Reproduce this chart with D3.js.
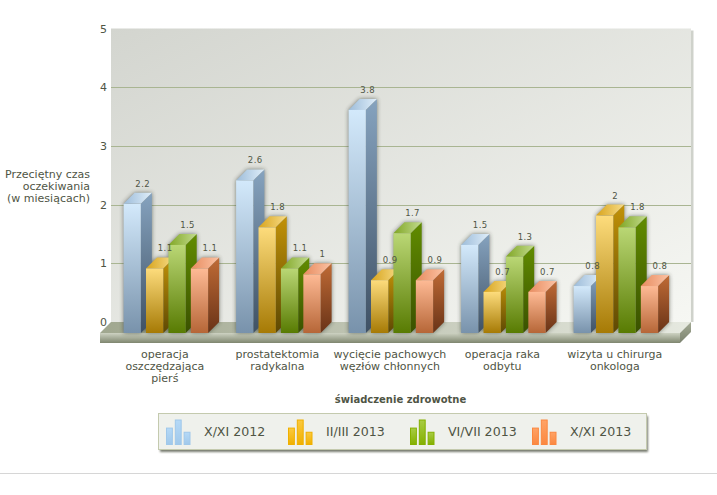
<!DOCTYPE html>
<html>
<head>
<meta charset="utf-8">
<script src="https://cdn.jsdelivr.net/npm/d3@7"></script>
<style>
html, body { margin: 0; padding: 0; background: #fff; }
svg { display: block; }
text { font-family: "DejaVu Sans", sans-serif; fill: #4f5545; }
</style>
</head>
<body>
<svg id="chart" width="717" height="495"></svg>
<script>
var categories = [
    ["operacja", "oszczędzająca", "pierś"],
    ["prostatektomia", "radykalna"],
    ["wycięcie pachowych", "węzłów chłonnych"],
    ["operacja raka", "odbytu"],
    ["wizyta u chirurga", "onkologa"]
];
var seriesNames = ["X/XI 2012", "II/III 2013", "VI/VII 2013", "X/XI 2013"];
var values2012a = [2.2, 2.6, 3.8, 1.5, 0.8];
var values2013a = [1.1, 1.8, 0.9, 0.7, 2];
var values2013b = [1.5, 1.1, 1.7, 1.3, 1.8];
var values2013c = [1.1, 1, 0.9, 0.7, 0.8];
var seriesValues = [values2012a, values2013a, values2013b, values2013c];
var yTicks = [0, 1, 2, 3, 4, 5];
var yTitle = ["Przeciętny czas", "oczekiwania", "(w miesiącach)"];
var xTitle = "świadczenie zdrowotne";
var legendShape = [0.67, 1, 0.5];

// colours per series: front top/bottom, side top/bottom, cap left/right
var palette = [
    { front: ["#d3e9fb", "#7892ab"], side: ["#86a3bf", "#3f5164"], cap: ["#9dbcd9", "#dfeefa"], key: ["#b5d9f7", "#a0c8ea"] },
    { front: ["#fddc7c", "#a67a05"], side: ["#c29208", "#5d4803"], cap: ["#d8a41c", "#f7dc88"], key: ["#fbc93f", "#f0b000"] },
    { front: ["#bad775", "#587b02"], side: ["#618c00", "#3a5100"], cap: ["#80a624", "#c2db8e"], key: ["#a8cc45", "#84b000"] },
    { front: ["#feba95", "#b66637"], side: ["#c06b36", "#693317"], cap: ["#e78c60", "#fcc2a3"], key: ["#ffa366", "#fb8840"] }
];

var wall = { left: 111, right: 691, top: 28.5, bottom: 322 };
var depth = 11;

var svg = d3.select("#chart");
var defs = svg.append("defs");

function addGradient(id, c, x2, y2) {
    var g = defs.append("linearGradient").attr("id", id)
        .attr("x1", 0).attr("y1", 0).attr("x2", x2).attr("y2", y2);
    g.append("stop").attr("offset", "0%").attr("stop-color", c[0]);
    g.append("stop").attr("offset", "100%").attr("stop-color", c[1]);
}

palette.forEach(function (p, i) {
    addGradient("front" + i, p.front, 0, 1);
    addGradient("side" + i, p.side, 0, 1);
    addGradient("cap" + i, p.cap, 1, 0);
    addGradient("key" + i, p.key, 0, 1);
});
addGradient("wallFill", ["#d3d5cf", "#f6f7f3"], 1, 1);
addGradient("floorTop", ["#a0a78f", "#e6e9e0"], 1, 0);
addGradient("floorFront", ["#cdd2c2", "#7f866f"], 0, 1);
addGradient("floorSide", ["#a3aa94", "#7c8370"], 0, 1);

defs.append("filter").attr("id", "blur")
    .attr("x", "-40%").attr("y", "-40%").attr("width", "180%").attr("height", "180%")
    .append("feGaussianBlur").attr("stdDeviation", 2.2);
defs.append("filter").attr("id", "legendShadow")
    .attr("x", "-5%").attr("y", "-20%").attr("width", "110%").attr("height", "140%")
    .append("feGaussianBlur").attr("stdDeviation", 1);

var y = d3.scaleLinear().domain([0, 5]).range([wall.bottom, wall.top]);
var x0 = d3.scaleBand().domain(d3.range(categories.length)).range([109.6, 672.1]);
var x1 = d3.scaleBand().domain(d3.range(seriesNames.length)).range([14, 98.5]).paddingInner(0.23);

// back wall
svg.append("rect").attr("x", wall.right).attr("y", wall.top + 2)
    .attr("width", 2.5).attr("height", wall.bottom - wall.top - 2).attr("fill", "#cfd2cb");
svg.append("rect").attr("x", wall.left).attr("y", wall.top)
    .attr("width", wall.right - wall.left).attr("height", wall.bottom - wall.top)
    .attr("fill", "url(#wallFill)");

// grid lines
svg.append("g").selectAll("line")
    .data(yTicks.filter(function (d) { return d > 0 && d < 5; }))
    .enter().append("line")
    .attr("x1", wall.left).attr("x2", wall.right)
    .attr("y1", function (d) { return Math.round(y(d)) + 0.5; })
    .attr("y2", function (d) { return Math.round(y(d)) + 0.5; })
    .attr("stroke", "#a9b592");

// y axis, only the numbers stay visible
var axis = svg.append("g")
    .attr("transform", "translate(" + wall.left + ",0)")
    .call(d3.axisLeft(y).tickValues(yTicks).tickFormat(d3.format("d")).tickSize(0).tickPadding(4));
axis.select(".domain").remove();
axis.selectAll("text").attr("font-size", 11).style("font-family", "DejaVu Sans").attr("fill", "#4f5545");

// floor
var fl = wall.left, fr = wall.right, fb = wall.bottom;
function pts(a) { return a.map(function (p) { return p.join(","); }).join(" "); }
svg.append("polygon").attr("fill", "url(#floorTop)")
    .attr("points", pts([[fl, fb], [fr, fb], [fr - depth, fb + depth], [fl - depth, fb + depth]]));
svg.append("rect").attr("fill", "url(#floorFront)")
    .attr("x", fl - depth).attr("y", fb + depth).attr("width", fr - fl).attr("height", 10);
svg.append("polygon").attr("fill", "url(#floorSide)")
    .attr("points", pts([[fr - depth, fb + depth], [fr, fb], [fr, fb + 10], [fr - depth, fb + depth + 10]]));

// flatten to one record per bar
var bars = [];
seriesValues.forEach(function (vals, s) {
    vals.forEach(function (v, c) {
        bars.push({ s: s, c: c, v: v });
    });
});
bars.sort(function (a, b) { return a.c - b.c || a.s - b.s; });

function barX(d) { return x0(d.c) + x1(d.s); }
function barTop(d) { return y(d.v) + depth; }
var base = y(0) + depth;
var w = x1.bandwidth();

// blurred shadows go under all the bars
svg.append("g").attr("filter", "url(#blur)").attr("opacity", 0.6)
    .selectAll("polygon").data(bars).enter().append("polygon")
    .attr("fill", "#2c3026")
    .attr("points", function (d) {
        var l = barX(d), t = barTop(d), r = l + w;
        return pts([[l, t], [l + depth, t - depth], [r + depth, t - depth], [r + depth, base - depth], [r, base], [l, base]]);
    });

var bar = svg.append("g").selectAll("g").data(bars).enter().append("g");

bar.append("polygon")
    .attr("fill", function (d) { return "url(#side" + d.s + ")"; })
    .attr("points", function (d) {
        var r = barX(d) + w, t = barTop(d);
        return pts([[r, t], [r + depth, t - depth], [r + depth, base - depth], [r, base]]);
    });
bar.append("polygon")
    .attr("fill", function (d) { return "url(#cap" + d.s + ")"; })
    .attr("points", function (d) {
        var l = barX(d), t = barTop(d);
        return pts([[l, t], [l + depth, t - depth], [l + w + depth, t - depth], [l + w, t]]);
    });
bar.append("rect")
    .attr("fill", function (d) { return "url(#front" + d.s + ")"; })
    .attr("x", barX)
    .attr("y", barTop)
    .attr("width", w)
    .attr("height", function (d) { return base - barTop(d); });

// value labels on top of everything
svg.append("g").selectAll("text").data(bars).enter().append("text")
    .attr("text-anchor", "middle")
    .attr("font-size", 8.5)
    .attr("letter-spacing", 0.4)
    .attr("x", function (d) { return barX(d) + w / 2 + 10.5; })
    .attr("y", function (d) { return barTop(d) - depth - 6; })
    .text(function (d) { return d.v; });

// category labels
var catLabel = svg.append("g").selectAll("text").data(categories).enter().append("text")
    .attr("text-anchor", "middle")
    .attr("font-size", 11)
    .attr("transform", function (d, i) {
        return "translate(" + (x0(i) + x1(0) + (x1(3) + w - x1(0)) / 2 - 1) + ",358)";
    });
catLabel.selectAll("tspan").data(function (d) { return d; }).enter().append("tspan")
    .attr("x", 0)
    .attr("y", function (d, i) { return i * 12; })
    .text(function (d) { return d; });

// y title
svg.append("g").selectAll("text").data(yTitle).enter().append("text")
    .attr("text-anchor", "end")
    .attr("font-size", 11)
    .attr("x", 90)
    .attr("y", function (d, i) { return 178 + i * 12; })
    .text(function (d) { return d; });

svg.append("text")
    .attr("text-anchor", "middle")
    .attr("font-size", 10)
    .attr("font-weight", "bold")
    .attr("x", 400.5).attr("y", 403)
    .text(xTitle);

// legend
svg.append("rect").attr("x", 160).attr("y", 416).attr("width", 488).attr("height", 36)
    .attr("fill", "#555a4c").attr("opacity", 0.8).attr("filter", "url(#legendShadow)");
svg.append("rect").attr("x", 158.5).attr("y", 413.5).attr("width", 488).attr("height", 36)
    .attr("fill", "#eff1ec").attr("stroke", "#c4caae");

var legendX = d3.scalePoint().domain(d3.range(seriesNames.length)).range([166, 532]);
var keyH = d3.scaleLinear().domain([0, 1]).range([0, 24.5]);
var keyX = d3.scaleBand().domain(d3.range(legendShape.length)).range([0, 24.5]).paddingInner(0.22);

var legend = svg.append("g").selectAll("g").data(seriesNames).enter().append("g")
    .attr("transform", function (d, i) { return "translate(" + legendX(i) + ",0)"; });

legend.each(function (d, i) {
    d3.select(this).selectAll("rect").data(legendShape).enter().append("rect")
        .attr("x", function (h, k) { return keyX(k) + 0.5; })
        .attr("y", function (h) { return 444.5 - keyH(h); })
        .attr("width", keyX.bandwidth() - 1)
        .attr("height", function (h) { return keyH(h); })
        .attr("fill", "url(#key" + i + ")")
        .attr("stroke", palette[i].key[1]);
});
legend.append("text")
    .attr("x", 38).attr("y", 436)
    .attr("font-size", 12.6)
    .text(function (d) { return d; });

// page rule under the chart
svg.append("line").attr("x1", 0).attr("x2", 717).attr("y1", 473.5).attr("y2", 473.5)
    .attr("stroke", "#d6d6d6");
</script>
</body>
</html>
